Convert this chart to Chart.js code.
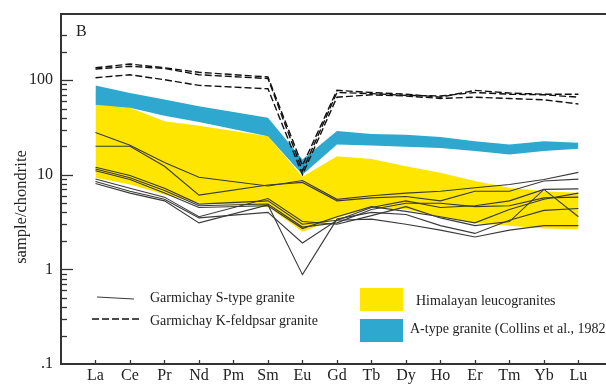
<!DOCTYPE html>
<html>
<head>
<meta charset="utf-8">
<script src="https://cdn.jsdelivr.net/npm/chart.js@4.4.0/dist/chart.umd.min.js"></script>
<style>
    html, body { margin: 0; padding: 0; background: #fff; overflow: hidden; }
    #wrap { width: 606px; height: 385px; }
</style>
</head>
<body>
<div id="wrap"><canvas id="chartREE" width="606" height="385"></canvas></div>
<script>
// Elementos (eje x) y etiquetas del eje y
const elementos = ['La', 'Ce', 'Pr', 'Nd', 'Pm', 'Sm', 'Eu', 'Gd', 'Tb', 'Dy', 'Ho', 'Er', 'Tm', 'Yb', 'Lu']
const ticksY = [0.1, 1, 10, 100]

// Himalayan leucogranites (banda amarilla)
const himalayaAlto = [76, 51, 36.8, 33, null, 25.5, 9.5, 15.7, 14.7, 12.3, 10.5, 8.6, 7.3, 6.7, 6.45]
const himalayaBajo = [9.3, 7.9, 6.2, 5.05, null, 4.6, 2.5, 3.5, 4.5, 4.3, 3.6, 3.1, 2.9, 2.7, 2.65]

// A-type granite (banda azul)
const tipoAAlto = [88, 73, 62.5, 53, null, 40, 14.5, 29, 27, 26.5, 25, 22.6, 20.9, 22.6, 21.8]
const tipoABajo = [55, 51, 42, 36, null, 25.5, 10, 20.9, 20.4, 19.8, 19.2, 17.8, 16.4, 17.8, 18.8]

// Garmichay K-feldspar granite (discontinuas)
const kfeld1 = [135, 148, 135, 121, null, 108, 12.5, 78, 74, 71, 66, 78, 73, 71, 71]
const kfeld2 = [131, 140, 133, 114, null, 104, 11, 74, 72, 69, 68, 74, 71, 70, 66]
const kfeld3 = [106, 114, 101, 88, null, 81, 10, 66, 70, 68, 64, 66, 64, 62, 56]

// Garmichay S-type granite (continuas)
const tipoS1 = [28, 20.5, 13.5, 9.4, null, 7.6, 8.7, 5.5, 6.0, 6.4, 6.7, 7.3, 7.9, 8.9, 10.6]
const tipoS2 = [20, 20, 12.3, 6.1, null, 7.8, 8.3, 5.3, 5.7, 5.9, 5.3, 6.7, 6.7, 8.6, 9.0]
const tipoS3 = [12, 9.8, 7.2, 4.9, null, 5.3, 3.0, 3.3, 4.5, 5.3, 4.5, 4.7, 5.3, 7.0, 7.1]
const tipoS4 = [11.5, 9.3, 6.8, 4.7, null, 4.9, 2.8, 3.1, 4.3, 5.0, 5.0, 4.6, 4.7, 5.7, 5.8]
const tipoS5 = [11, 8.9, 6.4, 4.5, null, 4.7, 2.7, 3.6, 4.6, 4.1, 3.6, 3.1, 4.3, 5.5, 6.4]
const tipoS6 = [9, 7.2, 5.8, 3.6, null, 5.6, 3.2, 3.0, 3.7, 4.6, 3.5, 2.9, 3.2, 7.0, 3.6]
const tipoS7 = [8.5, 6.7, 5.5, 3.5, null, 4.0, 1.9, 3.3, 3.4, 3.0, 2.6, 2.2, 2.6, 2.9, 2.9]
const tipoS8 = [8.1, 6.4, 5.3, 3.1, null, 4.8, 0.88, 3.4, 4.0, 3.8, 2.9, 2.4, 3.3, 4.2, 4.4]

const AMARILLO = 'rgb(255, 230, 0)'
const AZUL = 'rgb(46, 168, 206)'
const SERIF = '"Liberation Serif", "DejaVu Serif", serif'

const puntos = (valores) => valores.map((v, i) => ({ x: i + 1, y: v }))

function banda(valores, color, fill, order) {
    return {
        data: puntos(valores),
        borderWidth: 0,
        pointRadius: 0,
        backgroundColor: color,
        fill,
        order
    }
}

function linea(valores, discontinua) {
    return {
        data: puntos(valores),
        borderColor: discontinua ? '#111' : '#3a3a3a',
        borderWidth: discontinua ? 1.4 : 1.1,
        borderDash: discontinua ? [7, 3] : [],
        pointRadius: 0,
        fill: false,
        order: 0
    }
}

// Plugin para marcos, marcas de los ejes, leyenda y textos
const decoracion = {
    id: 'decoracion',
    afterDraw(chart) {
        const { ctx, chartArea, scales } = chart
        const x = scales.x
        const y = scales.y
        ctx.save()
        ctx.strokeStyle = '#333'
        ctx.lineWidth = 2
        ctx.beginPath()
        ctx.moveTo(chartArea.left - 1, chartArea.top)
        ctx.lineTo(chartArea.right, chartArea.top)
        ctx.stroke()

        // marcas del eje y (hacia dentro)
        ctx.lineWidth = 1.3
        for (let d = -1; d <= 2; d++) {
            for (let m = 1; m <= 9; m++) {
                const v = m * Math.pow(10, d)
                if (v <= 0.1 || v > 300) continue
                const py = Math.round(y.getPixelForValue(v)) + 0.5
                const largo = m === 1 ? 12 : 6
                ctx.beginPath()
                ctx.moveTo(chartArea.left, py)
                ctx.lineTo(chartArea.left + largo, py)
                ctx.stroke()
            }
        }

        // marcas del eje x
        elementos.forEach((e, i) => {
            const px = Math.round(x.getPixelForValue(i + 1)) + 0.5
            ctx.beginPath()
            ctx.moveTo(px, chartArea.bottom)
            ctx.lineTo(px, chartArea.bottom - 4)
            ctx.stroke()
        })

        ctx.fillStyle = '#222'
        ctx.textBaseline = 'middle'

        // letra del panel
        ctx.font = '16px ' + SERIF
        ctx.fillText('B', 76, 32)

        // título del eje y
        ctx.save()
        ctx.translate(22, 207)
        ctx.rotate(-Math.PI / 2)
        ctx.textAlign = 'center'
        ctx.font = '16.5px ' + SERIF
        ctx.fillText('sample/chondrite', 0, 0)
        ctx.restore()

        // leyenda
        ctx.font = '14px ' + SERIF
        ctx.strokeStyle = '#3a3a3a'
        ctx.lineWidth = 1.1
        ctx.beginPath()
        ctx.moveTo(97, 297)
        ctx.lineTo(134, 299)
        ctx.stroke()
        ctx.fillText('Garmichay S-type granite', 150, 298)

        ctx.strokeStyle = '#111'
        ctx.lineWidth = 1.4
        ctx.setLineDash([7, 3])
        ctx.beginPath()
        ctx.moveTo(92, 319)
        ctx.lineTo(142, 319)
        ctx.stroke()
        ctx.setLineDash([])
        ctx.fillText('Garmichay K-feldpsar granite', 150, 321)

        ctx.fillStyle = AMARILLO
        ctx.fillRect(360, 288, 43, 23)
        ctx.fillStyle = AZUL
        ctx.fillRect(360, 319, 43, 23)
        ctx.fillStyle = '#222'
        ctx.fillText('Himalayan leucogranites', 416, 301)
        ctx.fillText('A-type granite (Collins et al., 1982)', 410, 329)
        ctx.restore()
    }
}

const canvas = document.getElementById('chartREE')
new Chart(canvas.getContext('2d'), {
    type: 'line',
    data: {
        datasets: [
            banda(himalayaBajo, AMARILLO, false, 10),
            banda(himalayaAlto, AMARILLO, '-1', 10),
            banda(tipoABajo, AZUL, false, 9),
            banda(tipoAAlto, AZUL, '-1', 9),
            linea(kfeld1, true),
            linea(kfeld2, true),
            linea(kfeld3, true),
            linea(tipoS1, false),
            linea(tipoS2, false),
            linea(tipoS3, false),
            linea(tipoS4, false),
            linea(tipoS5, false),
            linea(tipoS6, false),
            linea(tipoS7, false),
            linea(tipoS8, false)
        ]
    },
    options: {
        responsive: false,
        animation: false,
        devicePixelRatio: 1,
        spanGaps: true,
        layout: { padding: { top: 14, right: 0, left: 0, bottom: 0 } },
        elements: { line: { tension: 0 } },
        plugins: {
            legend: { display: false },
            tooltip: { enabled: false }
        },
        scales: {
            x: {
                type: 'linear',
                min: 0,
                max: 15.8,
                grid: { display: false, drawTicks: false },
                border: { display: true, color: '#333', width: 2 },
                afterBuildTicks: (scale) => {
                    scale.ticks = elementos.map((e, i) => ({ value: i + 1 }))
                },
                afterFit: (scale) => {
                    scale.height = 21
                    scale.paddingLeft = 0
                    scale.paddingRight = 0
                },
                ticks: {
                    padding: 2,
                    autoSkip: false,
                    maxRotation: 0,
                    color: '#222',
                    font: { family: SERIF, size: 16 },
                    callback: (v) => elementos[v - 1] || ''
                }
            },
            y: {
                type: 'logarithmic',
                min: 0.1,
                max: 500,
                grid: { display: false, drawTicks: false },
                border: { display: true, color: '#333', width: 2 },
                afterBuildTicks: (scale) => {
                    scale.ticks = ticksY.map(v => ({ value: v }))
                },
                afterFit: (scale) => {
                    scale.width = 61
                    scale.paddingTop = 0
                    scale.paddingBottom = 0
                },
                ticks: {
                    padding: 8,
                    color: '#222',
                    font: { family: SERIF, size: 16 },
                    callback: (v) => (v === 0.1 ? '.1' : String(v))
                }
            }
        }
    },
    plugins: [decoracion]
})
</script>
</body>
</html>
